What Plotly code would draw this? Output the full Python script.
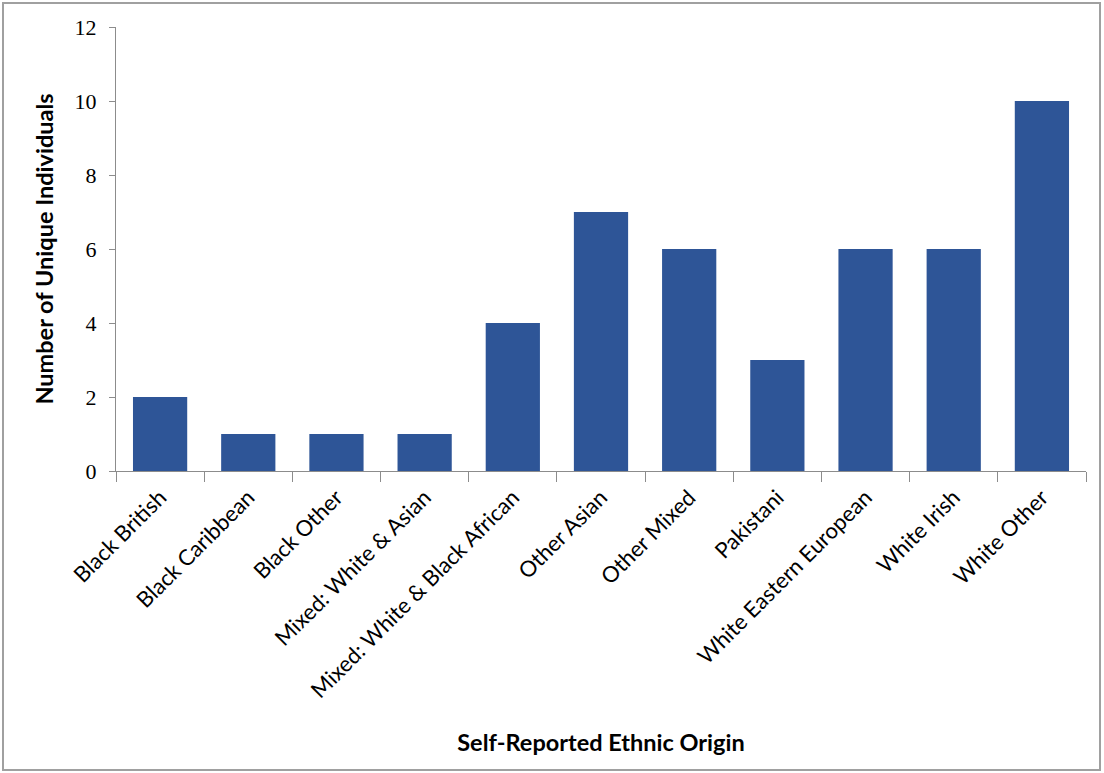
import plotly.graph_objects as go

categories = ["Black British", "Black Caribbean", "Black Other", "Mixed: White & Asian",
              "Mixed: White & Black African", "Other Asian", "Other Mixed", "Pakistani",
              "White Eastern European", "White Irish", "White Other"]
values = [2, 1, 1, 1, 4, 7, 6, 3, 6, 6, 10]
y_ticks = [0, 2, 4, 6, 8, 10, 12]

W, H = 1104, 773
L, R, T, B = 116, 18, 27, 302

fig = go.Figure(go.Bar(x=categories, y=values, marker=dict(color="#2E5597", line=dict(width=0))))

pw = W - L - R
ph = H - T - B
def px_x(p): return (p - L) / pw
def px_y(p): return (H - B - p) / ph

fig.update_layout(
    width=W, height=H,
    margin=dict(l=L, r=R, t=T, b=B),
    paper_bgcolor="white", plot_bgcolor="white",
    bargap=0.385,
    showlegend=False,
    xaxis=dict(
        tickangle=-45, tickson="boundaries", ticks="outside", ticklen=10,
        tickcolor="#8c8c8c", showline=True, linecolor="#8c8c8c", linewidth=1,
        tickfont=dict(family="Lato", size=22, color="black"),
        ticklabelstandoff=4,
        title=dict(text="<b>Self-Reported Ethnic Origin</b>", font=dict(family="Lato", size=23.5, color="black"), standoff=32),
        showgrid=False,
    ),
    yaxis=dict(
        range=[0, 12], tickvals=y_ticks, ticks="outside", ticklen=6,
        tickcolor="#8c8c8c", showline=True, linecolor="#8c8c8c", linewidth=1,
        tickfont=dict(family="Liberation Serif", size=22, color="black"),
        ticklabelstandoff=8,
        title=dict(text="<b>Number of Unique Individuals</b>", font=dict(family="Lato", size=23.5, color="black"), standoff=14),
        showgrid=False, zeroline=False,
    ),
    shapes=[dict(type="rect", xref="paper", yref="paper",
                 x0=px_x(3), x1=px_x(1100), y0=px_y(770), y1=px_y(3),
                 line=dict(color="#a0a0a0", width=2), layer="below")],
)
fig.write_html("out.html", config={"displayModeBar": False},
               post_script="document.body.style.margin='0';")
